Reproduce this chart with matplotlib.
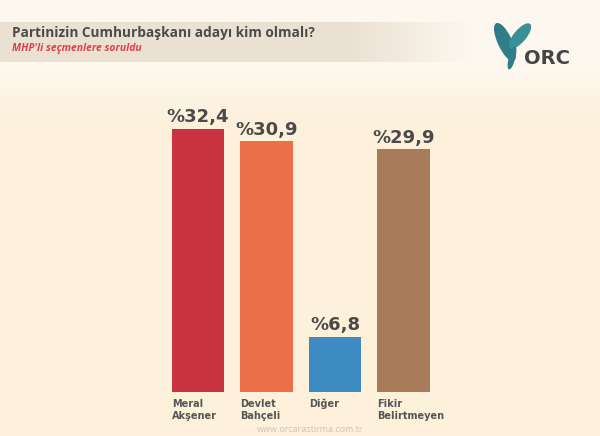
import matplotlib
matplotlib.use("Agg")
import matplotlib.pyplot as plt
import numpy as np
from matplotlib.patches import Rectangle, Ellipse

categories = ["Meral\nAkşener", "Devlet\nBahçeli", "Diğer", "Fikir\nBelirtmeyen"]
values = [32.4, 30.9, 6.8, 29.9]
value_labels = ["%32,4", "%30,9", "%6,8", "%29,9"]
colors = ["#c9323f", "#ea7048", "#3e8bc3", "#a87b5b"]

plt.rcParams['font.family'] = ['Open Sans', 'DejaVu Sans']

W, H = 600, 436
fig = plt.figure(figsize=(6, 4.36), dpi=100)
fig.patch.set_facecolor("#fdf1dc")

bg = fig.add_axes([0, 0, 1, 1])
bg.set_xlim(0, W)
bg.set_ylim(H, 0)
bg.axis("off")
# lighter top fading into cream
n = 40
for i in range(n):
    a = 1 - i / n
    bg.add_patch(Rectangle((0, 62 + i * 1.5), W, 1.6, color="#fdf8ef", alpha=a, zorder=0, lw=0))
bg.add_patch(Rectangle((0, 0), W, 62, color="#fdf8ef", zorder=0, lw=0))
# title band with fade
n = 60
for i in range(n):
    x0 = 350 + i * 2
    a = 1 - i / n
    bg.add_patch(Rectangle((x0, 22), 2.2, 40, color="#ebe1d3", alpha=a, zorder=1, lw=0))
bg.add_patch(Rectangle((0, 22), 350, 40, color="#ebe1d3", zorder=1, lw=0))
bg.text(12, 33, "Partinizin Cumhurbaşkanı adayı kim olmalı?", fontsize=9.8,
        fontweight="bold", color="#4a4a4a", va="center", ha="left", zorder=2)
bg.text(12, 48, "MHP'li seçmenlere soruldu", fontsize=7.5, fontstyle="italic",
        fontweight="bold", color="#e0404a", va="center", ha="left", zorder=2)

# logo
bg.add_patch(Ellipse((505, 42), 13, 40, angle=-25, color="#2e7d87", zorder=2))
bg.add_patch(Ellipse((520, 36), 11, 30, angle=40, color="#3a8f99", zorder=2))
bg.add_patch(Ellipse((512, 58), 5, 22, angle=15, color="#2e7d87", zorder=2))
bg.text(524, 58, "ORC", fontsize=14, fontweight="bold", color="#444444",
        va="center", ha="left", zorder=3, family="DejaVu Sans")

# url
bg.text(310, 429, "www.orcarastirma.com.tr", fontsize=6.5, color="#cfc3b2",
        ha="center", va="center", zorder=2)

# bars axes
left_px = 198 - 34.25
ax = fig.add_axes([left_px / W, (H - 392) / H, 274 / W, 325 / H])
ax.set_xlim(-0.5, 3.5)
ax.set_ylim(0, 40)
ax.axis("off")
x = np.arange(len(categories))
bw = 0.76
ax.bar(x, values, width=bw, color=colors, zorder=3)
for xi, v, lab in zip(x, values, value_labels):
    ax.text(xi, v + 0.3, lab, ha="center", va="bottom", fontsize=13,
            fontweight="bold", color="#4a4a4a", family="DejaVu Sans")
for xi, c in zip(x, categories):
    ax.text(xi - bw / 2, -0.8, c, ha="left", va="top", fontsize=7,
            fontweight="bold", color="#555555", linespacing=1.35,
            family="DejaVu Sans")

fig.savefig("out.png", dpi=100, facecolor=fig.get_facecolor())
